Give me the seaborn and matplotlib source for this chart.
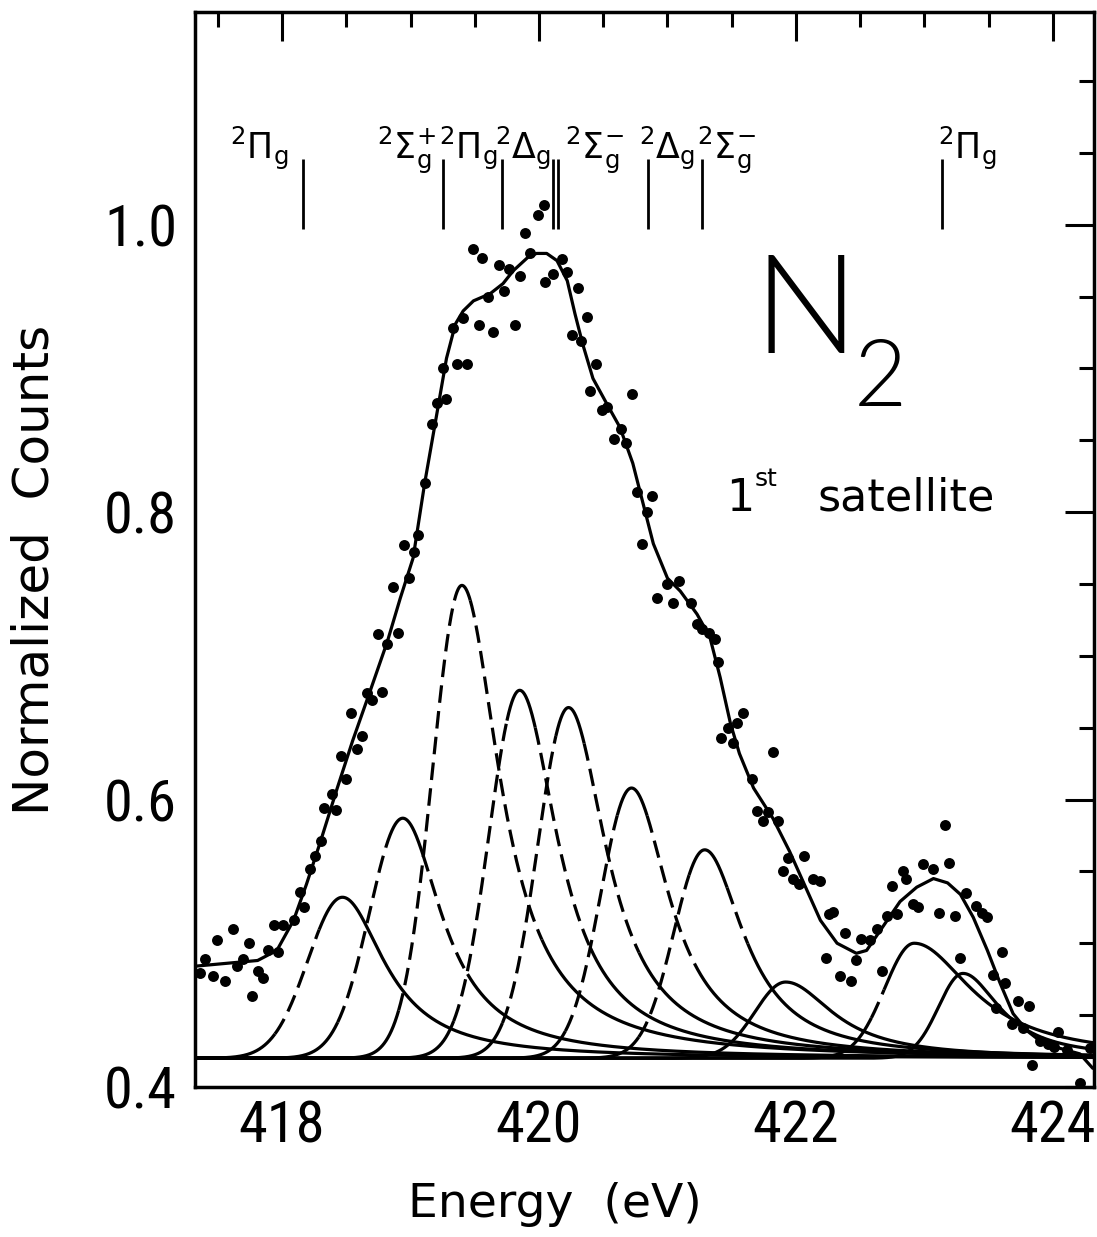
import numpy as np
import pandas as pd
import matplotlib
matplotlib.use("Agg")
import matplotlib.pyplot as plt
from matplotlib.ticker import MultipleLocator, FixedLocator
import seaborn as sns

# Measured spectrum (photon energy in eV, normalized counts)
energy = [
    417.36, 417.40, 417.46, 417.49, 417.56, 417.62, 417.65, 417.70, 417.74, 417.77,
    417.81, 417.85, 417.89, 417.94, 417.97, 418.01, 418.09, 418.14, 418.17, 418.22,
    418.26, 418.30, 418.33, 418.39, 418.42, 418.46, 418.50, 418.54, 418.58, 418.62,
    418.66, 418.70, 418.75, 418.78, 418.82, 418.86, 418.90, 418.95, 418.99, 419.03,
    419.06, 419.11, 419.17, 419.21, 419.25, 419.28, 419.33, 419.36, 419.41, 419.44,
    419.49, 419.53, 419.56, 419.60, 419.64, 419.69, 419.73, 419.77, 419.81, 419.85,
    419.89, 419.93, 419.99, 420.04, 420.05, 420.11, 420.18, 420.22, 420.26, 420.30,
    420.33, 420.37, 420.40, 420.44, 420.49, 420.53, 420.58, 420.64, 420.68, 420.72,
    420.76, 420.80, 420.84, 420.88, 420.92, 421.00, 421.04, 421.09, 421.18, 421.23,
    421.27, 421.32, 421.37, 421.39, 421.42, 421.47, 421.51, 421.54, 421.59, 421.66,
    421.70, 421.74, 421.78, 421.82, 421.86, 421.90, 421.94, 421.98, 422.02, 422.06,
    422.13, 422.19, 422.23, 422.26, 422.29, 422.34, 422.38, 422.43, 422.47, 422.51,
    422.58, 422.63, 422.67, 422.71, 422.75, 422.79, 422.83, 422.86, 422.91, 422.95,
    422.99, 423.07, 423.11, 423.16, 423.19, 423.24, 423.28, 423.32, 423.40, 423.45,
    423.49, 423.53, 423.56, 423.60, 423.63, 423.68, 423.73, 423.77, 423.81, 423.84,
    423.90, 423.96, 424.01, 424.04, 424.11, 424.21, 424.29,
]
counts = [
    0.479, 0.489, 0.477, 0.502, 0.474, 0.510, 0.484, 0.489, 0.500, 0.463,
    0.481, 0.476, 0.495, 0.513, 0.494, 0.513, 0.516, 0.536, 0.525, 0.552,
    0.561, 0.571, 0.594, 0.604, 0.593, 0.630, 0.614, 0.660, 0.635, 0.644,
    0.674, 0.669, 0.715, 0.675, 0.708, 0.748, 0.716, 0.777, 0.754, 0.772,
    0.784, 0.820, 0.861, 0.876, 0.900, 0.879, 0.928, 0.903, 0.935, 0.903,
    0.983, 0.930, 0.977, 0.950, 0.925, 0.972, 0.954, 0.969, 0.930, 0.964,
    0.994, 0.980, 1.007, 1.014, 0.960, 0.966, 0.976, 0.967, 0.923, 0.956,
    0.919, 0.936, 0.884, 0.903, 0.871, 0.873, 0.851, 0.858, 0.848, 0.882,
    0.814, 0.778, 0.800, 0.811, 0.740, 0.750, 0.737, 0.752, 0.737, 0.722,
    0.719, 0.716, 0.712, 0.696, 0.643, 0.650, 0.639, 0.653, 0.660, 0.614,
    0.592, 0.585, 0.591, 0.633, 0.585, 0.550, 0.559, 0.545, 0.541, 0.561,
    0.545, 0.543, 0.490, 0.520, 0.522, 0.477, 0.507, 0.474, 0.488, 0.503,
    0.502, 0.510, 0.481, 0.519, 0.540, 0.520, 0.550, 0.545, 0.527, 0.525,
    0.555, 0.552, 0.521, 0.582, 0.556, 0.519, 0.490, 0.535, 0.526, 0.521,
    0.518, 0.478, 0.455, 0.494, 0.472, 0.444, 0.460, 0.441, 0.456, 0.415,
    0.432, 0.430, 0.428, 0.438, 0.426, 0.403, 0.427,
]

# Fitted envelope
fit_energy = [
    417.32, 417.81, 417.96, 418.09, 418.19, 418.30, 418.43, 418.55, 418.68, 418.82,
    418.92, 419.02, 419.11, 419.21, 419.28, 419.35, 419.41, 419.49, 419.62, 419.72,
    419.80, 419.91, 419.98, 420.06, 420.14, 420.22, 420.28, 420.34, 420.42, 420.53,
    420.63, 420.73, 420.81, 420.89, 421.00, 421.10, 421.23, 421.33, 421.41, 421.49,
    421.56, 421.67, 421.82, 421.95, 422.09, 422.19, 422.32, 422.47, 422.55, 422.68,
    422.81, 422.94, 423.07, 423.18, 423.28, 423.38, 423.49, 423.59, 423.69, 423.80,
    423.90, 424.05, 424.21, 424.31,
]
fit_counts = [
    0.484, 0.488, 0.495, 0.516, 0.541, 0.571, 0.608, 0.641, 0.674, 0.710,
    0.740, 0.768, 0.820, 0.871, 0.907, 0.931, 0.940, 0.947, 0.952, 0.959,
    0.968, 0.977, 0.980, 0.980, 0.975, 0.961, 0.938, 0.917, 0.893, 0.875,
    0.859, 0.834, 0.806, 0.778, 0.754, 0.745, 0.729, 0.713, 0.685, 0.653,
    0.632, 0.608, 0.587, 0.564, 0.536, 0.516, 0.500, 0.493, 0.495, 0.512,
    0.529, 0.539, 0.545, 0.542, 0.534, 0.518, 0.495, 0.472, 0.451, 0.439,
    0.432, 0.427, 0.423, 0.413,
]

# Fit components: centre, peak value, Gaussian rise width, Lorentzian tail width
comp_center = [418.47, 418.94, 419.40, 419.85, 420.23, 420.72, 421.29, 421.92, 422.92, 423.30]
comp_peak = [0.532, 0.587, 0.749, 0.676, 0.664, 0.608, 0.565, 0.473, 0.500, 0.479]
comp_sigma = [0.27, 0.26, 0.23, 0.24, 0.24, 0.24, 0.24, 0.24, 0.23, 0.19]
comp_gamma = [0.40, 0.37, 0.36, 0.36, 0.36, 0.36, 0.37, 0.45, 0.55, 0.35]
BASELINE = 0.42

# Dashed stretches of each component, as fractions of its height:
# (rising side from, to, falling side from, to)
comp_dash = [
    (0.15, 0.80, 1.0, 0.0),
    (0.15, 0.88, 0.35, 0.85),
    (0.10, 0.97, 0.25, 0.97),
    (0.10, 0.92, 0.30, 0.90),
    (0.10, 0.92, 0.30, 0.90),
    (0.10, 0.90, 0.35, 0.90),
    (0.10, 0.88, 0.55, 0.82),
    (1.0, 0.0, 1.0, 0.0),
    (0.35, 0.60, 1.0, 0.0),
    (1.0, 0.0, 1.0, 0.0),
]

# Final-state assignments
state_text = [r"$^{2}\Pi_{\mathrm{g}}$", r"$^{2}\Sigma_{\mathrm{g}}^{+}$",
              r"$^{2}\Pi_{\mathrm{g}}$", r"$^{2}\Delta_{\mathrm{g}}$",
              r"$^{2}\Sigma_{\mathrm{g}}^{-}$", r"$^{2}\Delta_{\mathrm{g}}$",
              r"$^{2}\Sigma_{\mathrm{g}}^{-}$", r"$^{2}\Pi_{\mathrm{g}}$"]
state_text_e = [417.82, 418.97, 419.45, 419.88, 420.43, 421.00, 421.46, 423.33]
state_tick_e = [418.16, 419.25, 419.71, 420.11, 420.15, 420.85, 421.27, 423.14]

x_major = [418, 420, 422, 424]
y_major = [0.4, 0.6, 0.8, 1.0]

sns.set_style("white")
plt.rcParams["font.family"] = ["DejaVu Sans"]
plt.rcParams.update({"text.color": "black", "axes.labelcolor": "black",
                     "xtick.color": "black", "ytick.color": "black",
                     "axes.edgecolor": "black"})

TICK_FONT = ["Roboto Condensed", "Liberation Sans Narrow", "DejaVu Sans Condensed",
             "Liberation Sans", "DejaVu Sans"]

fig = plt.figure(figsize=(10.97, 12.37), dpi=100)
ax = fig.add_axes([0.1778, 0.1213, 0.8195, 0.869])

LW = 2.3
DASH = (0, (5.5, 2.6))

grid = np.linspace(417.30, 424.35, 4000)


def component(x, c, peak, s, g):
    amp = peak - BASELINE
    rise = amp * np.exp(-0.5 * ((x - c) / s) ** 2)
    tail = amp / (1.0 + ((x - c) / g) ** 2)
    return BASELINE + np.where(x < c, rise, tail)


for c, pk, s, g, (l0, l1, r0, r1) in zip(comp_center, comp_peak, comp_sigma,
                                          comp_gamma, comp_dash):
    y = component(grid, c, pk, s, g)
    frac = (y - BASELINE) / (pk - BASELINE)
    left = grid < c
    dashed = (left & (frac >= l0) & (frac <= l1)) | (~left & (frac >= r0) & (frac <= r1))
    solid_mask = ~dashed
    solid_y = np.where(solid_mask | np.roll(solid_mask, 1) | np.roll(solid_mask, -1), y, np.nan)
    dash_y = np.where(dashed, y, np.nan)
    ax.plot(grid, solid_y, color="black", lw=LW, solid_capstyle="butt", zorder=2)
    ax.plot(grid, dash_y, color="black", lw=LW, linestyle=DASH, zorder=2)

spec = pd.DataFrame({"energy": energy, "counts": counts})
fit = pd.DataFrame({"energy": fit_energy, "counts": fit_counts})

sns.lineplot(data=fit, x="energy", y="counts", color="black", lw=LW,
             estimator=None, sort=False, ax=ax, zorder=3)
sns.scatterplot(data=spec, x="energy", y="counts", color="black", s=62,
                linewidth=0, ax=ax, zorder=4)

# State markers
ax.vlines(state_tick_e, 0.997, 1.046, color="black", lw=2.0, zorder=3)
for txt, e in zip(state_text, state_text_e):
    ax.text(e, 1.046, txt, ha="center", va="baseline", fontsize=25,
            math_fontfamily="dejavusans", color="black")

# Molecule and band annotations
ax.text(421.67, 0.911, "N", fontsize=100, family=["Lato", "DejaVu Sans"],
        fontweight=300, ha="left", va="baseline")
ax.text(422.45, 0.874, "2", fontsize=66, family=["Lato", "DejaVu Sans"],
        fontweight=300, ha="left", va="baseline")
ax.text(421.46, 0.801, "1", fontsize=32, ha="left", va="baseline")
ax.text(421.68, 0.818, "st", fontsize=18, ha="left", va="baseline")
ax.text(422.17, 0.801, "satellite", fontsize=32, ha="left", va="baseline")

ax.set_xlim(417.323, 424.32)
ax.set_ylim(0.4, 1.148)

ax.xaxis.set_major_locator(FixedLocator(x_major))
ax.xaxis.set_minor_locator(MultipleLocator(0.5))
ax.yaxis.set_major_locator(FixedLocator(y_major))
ax.yaxis.set_minor_locator(MultipleLocator(0.05))

ax.tick_params(which="major", direction="in", length=21, width=2.2,
               top=True, right=True, labelsize=42, color="black")
ax.tick_params(axis="x", which="major", pad=9)
ax.tick_params(axis="y", which="major", pad=13)
ax.tick_params(which="minor", direction="in", length=11, width=2.2,
               top=True, right=True, color="black")

for lbl in ax.get_xticklabels() + ax.get_yticklabels():
    lbl.set_family(TICK_FONT)

for sp in ax.spines.values():
    sp.set_linewidth(2.5)
    sp.set_color("black")

ax.set_xlabel("Energy  (eV)", fontsize=34)
ax.set_ylabel("Normalized  Counts", fontsize=36)
ax.xaxis.set_label_coords(0.40, -0.088)
ax.yaxis.set_label_coords(-0.152, 0.481)

fig.savefig("out.png", dpi=100, facecolor="white")
